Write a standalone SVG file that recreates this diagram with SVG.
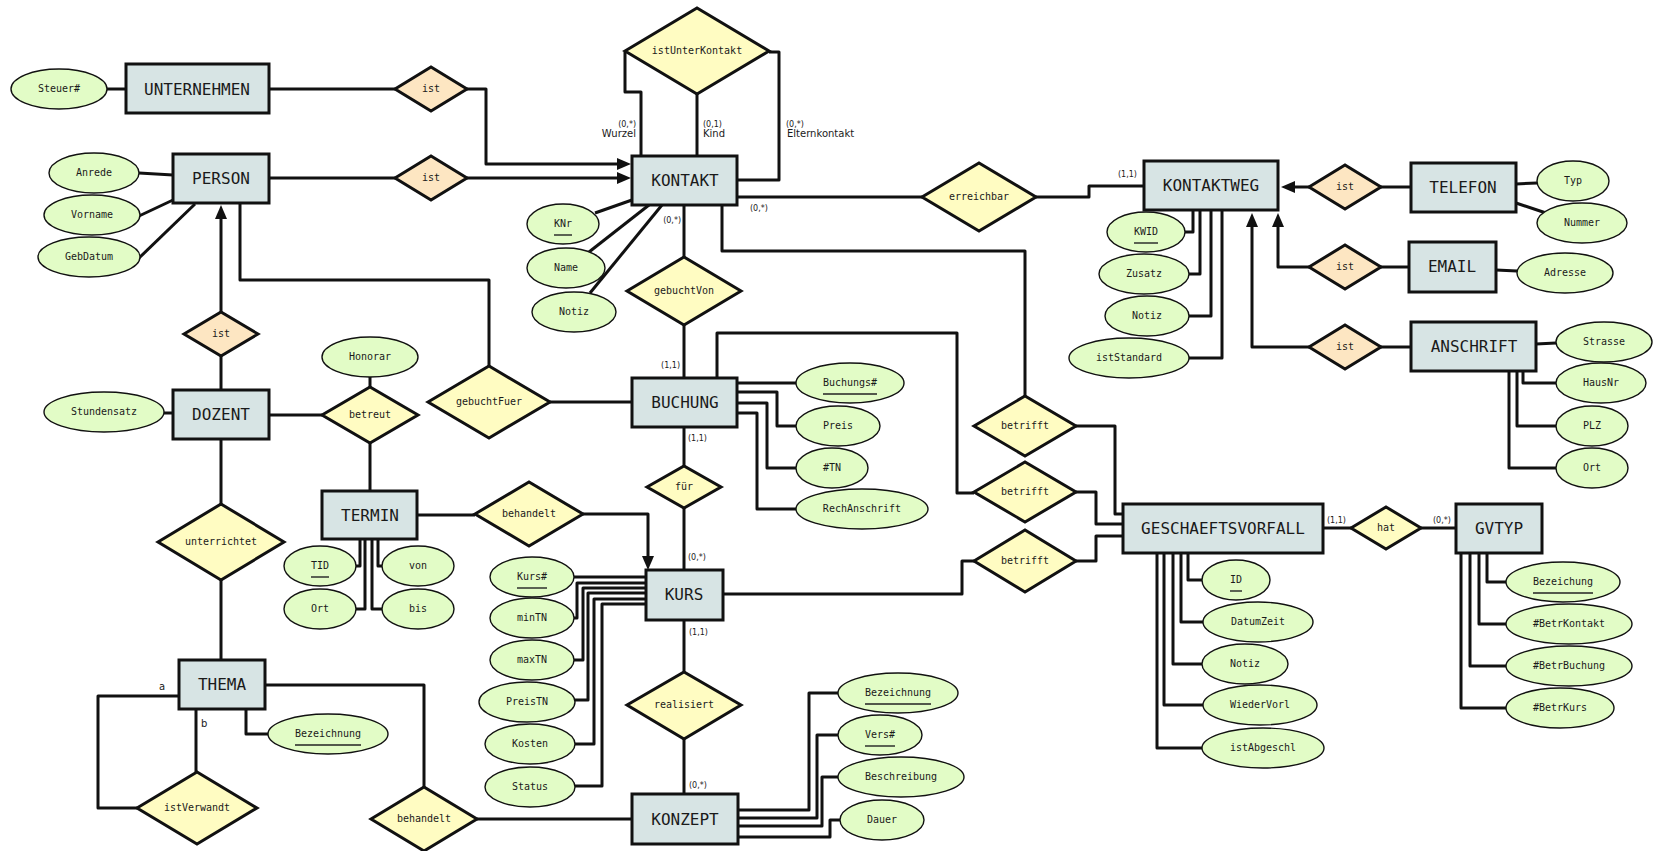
<svg xmlns="http://www.w3.org/2000/svg" width="1658" height="851" viewBox="0 0 1658 851">
<style>
.e{fill:#d7e4e4;stroke:#111;stroke-width:3}
.a{fill:#e2fcc6;stroke:#111;stroke-width:1.4}
.r{fill:#fffcc2;stroke:#111;stroke-width:3;stroke-linejoin:miter}
.i{fill:#fde6c2;stroke:#111;stroke-width:3;stroke-linejoin:miter}
.c path{fill:none;stroke:#111;stroke-width:3;stroke-linejoin:round}
.u{stroke:#222;stroke-width:1.4}
text{font-family:"DejaVu Sans Mono","Liberation Mono",monospace;fill:#1a1a1a;text-anchor:middle}
.et{font-size:16px}
.at{font-size:10px}
.card{font-family:"DejaVu Sans","Liberation Sans",sans-serif;font-size:8px;text-anchor:start}
.role{font-family:"DejaVu Sans","Liberation Sans",sans-serif;font-size:10px;text-anchor:start}
.end{text-anchor:end}
</style>
<defs>
<marker id="arr" markerUnits="userSpaceOnUse" markerWidth="14" markerHeight="12" refX="0" refY="6" orient="auto" overflow="visible"><path d="M0,0 L14,6 L0,12 z" fill="#111"/></marker>
</defs>

<g id="connectors" class="c">
<path d="M107,89 H126"/>
<path d="M269,89 H395"/>
<path d="M467,89 H486 V164 H617" marker-end="url(#arr)"/>
<path d="M269,178 H395"/>
<path d="M467,178 H617" marker-end="url(#arr)"/>
<path d="M139,173 L173,175"/>
<path d="M139,216 L173,200"/>
<path d="M138,259 L195,204"/>
<path d="M240,203 V280 H489 V366"/>
<path d="M221,313 V219" marker-end="url(#arr)"/>
<path d="M221,356 V390"/>
<path d="M164,413 H173"/>
<path d="M269,415 H322"/>
<path d="M370,377 V387"/>
<path d="M370,443 V491"/>
<path d="M221,439 V504"/>
<path d="M221,580 V660"/>
<path d="M360,539 V566 H356"/>
<path d="M378,539 V566 H382"/>
<path d="M365,539 V609 H356"/>
<path d="M372,539 V609 H382"/>
<path d="M417,515 H475"/>
<path d="M583,514 H648 V556" marker-end="url(#arr)"/>
<path d="M265,685 H424 V787"/>
<path d="M477,819 H632"/>
<path d="M179,696 H98 V808 H137"/>
<path d="M196,709 V772"/>
<path d="M246,709 V734 H268"/>
<path d="M625,52 V92 H641 V156"/>
<path d="M697,94 V156"/>
<path d="M769,52 H779 V180 H737"/>
<path d="M737,197 H922"/>
<path d="M1036,197 H1089 V186 H1144"/>
<path d="M722,205 V251 H1025 V396"/>
<path d="M595,213 L632,200"/>
<path d="M589,252 L649,205"/>
<path d="M590,293 L662,205"/>
<path d="M684,205 V257"/>
<path d="M684,325 V378"/>
<path d="M550,402 H632"/>
<path d="M717,378 V333 H957 V493 H974"/>
<path d="M737,383 H796"/>
<path d="M737,392 H777 V426 H796"/>
<path d="M737,403 H767 V468 H796"/>
<path d="M737,413 H757 V509 H796"/>
<path d="M684,427 V466"/>
<path d="M684,508 V570"/>
<path d="M646,577 H574"/>
<path d="M646,583 H577 V618 H574"/>
<path d="M646,588 H583 V660 H574"/>
<path d="M646,593 H588 V700 H575"/>
<path d="M646,599 H594 V744 H575"/>
<path d="M646,604 H602 V786 H575"/>
<path d="M684,620 V672"/>
<path d="M684,739 V794"/>
<path d="M723,594 H962 V561 H974"/>
<path d="M738,810 H809 V693 H838"/>
<path d="M738,818 H817 V735 H838"/>
<path d="M738,826 H822 V777 H838"/>
<path d="M738,837 H830 V820 H840"/>
<path d="M1076,426 H1115 V514 H1123"/>
<path d="M1076,492 H1096 V524 H1123"/>
<path d="M1076,561 H1096 V536 H1123"/>
<path d="M1323,528 H1351"/>
<path d="M1421,528 H1456"/>
<path d="M1188,553 V580 H1202"/>
<path d="M1181,553 V622 H1203"/>
<path d="M1173,553 V664 H1202"/>
<path d="M1164,553 V705 H1203"/>
<path d="M1157,553 V748 H1202"/>
<path d="M1487,553 V582 H1506"/>
<path d="M1479,553 V624 H1506"/>
<path d="M1470,553 V666 H1506"/>
<path d="M1461,553 V708 H1506"/>
<path d="M1193,210 V232 H1185"/>
<path d="M1200,210 V274 H1189"/>
<path d="M1211,210 V316 H1189"/>
<path d="M1222,210 V358 H1189"/>
<path d="M1309,187 H1295" marker-end="url(#arr)"/>
<path d="M1381,187 H1411"/>
<path d="M1309,267 H1278 V227" marker-end="url(#arr)"/>
<path d="M1381,267 H1409"/>
<path d="M1309,347 H1252 V227" marker-end="url(#arr)"/>
<path d="M1381,347 H1411"/>
<path d="M1516,184 L1537,183"/>
<path d="M1516,203 L1546,213"/>
<path d="M1496,270 L1517,271"/>
<path d="M1536,344 L1556,343"/>
<path d="M1523,371 V383 H1556"/>
<path d="M1517,371 V426 H1556"/>
<path d="M1509,371 V468 H1556"/>
</g>

<g id="labels">
<text class="card end" x="636" y="127">(0,*)</text>
<text class="role end" x="636" y="137">Wurzel</text>
<text class="card" x="703" y="127">(0,1)</text>
<text class="role" x="703" y="137">Kind</text>
<text class="card" x="786" y="127">(0,*)</text>
<text class="role" x="787" y="137">Elternkontakt</text>
<text class="card" x="750" y="211">(0,*)</text>
<text class="card end" x="681" y="223">(0,*)</text>
<text class="card" x="1118" y="177">(1,1)</text>
<text class="card end" x="680" y="368">(1,1)</text>
<text class="card" x="688" y="441">(1,1)</text>
<text class="card" x="688" y="560">(0,*)</text>
<text class="card" x="689" y="635">(1,1)</text>
<text class="card" x="689" y="788">(0,*)</text>
<text class="card" x="1327" y="523">(1,1)</text>
<text class="card" x="1433" y="523">(0,*)</text>
<text class="role" x="159" y="690">a</text>
<text class="role" x="201" y="727">b</text>
</g>

<g id="UNTERNEHMEN"><rect class="e" x="126" y="64" width="143" height="49"/><text class="et" x="197" y="95">UNTERNEHMEN</text></g>
<g id="PERSON"><rect class="e" x="173" y="154" width="96" height="49"/><text class="et" x="221" y="184">PERSON</text></g>
<g id="KONTAKT"><rect class="e" x="632" y="156" width="105" height="49"/><text class="et" x="685" y="186">KONTAKT</text></g>
<g id="KONTAKTWEG"><rect class="e" x="1144" y="161" width="134" height="49"/><text class="et" x="1211" y="191">KONTAKTWEG</text></g>
<g id="TELEFON"><rect class="e" x="1411" y="163" width="105" height="49"/><text class="et" x="1463" y="193">TELEFON</text></g>
<g id="EMAIL"><rect class="e" x="1409" y="242" width="87" height="50"/><text class="et" x="1452" y="272">EMAIL</text></g>
<g id="ANSCHRIFT"><rect class="e" x="1411" y="322" width="125" height="49"/><text class="et" x="1474" y="352">ANSCHRIFT</text></g>
<g id="DOZENT"><rect class="e" x="173" y="390" width="96" height="49"/><text class="et" x="221" y="420">DOZENT</text></g>
<g id="TERMIN"><rect class="e" x="322" y="491" width="95" height="48"/><text class="et" x="370" y="521">TERMIN</text></g>
<g id="BUCHUNG"><rect class="e" x="632" y="378" width="105" height="49"/><text class="et" x="685" y="408">BUCHUNG</text></g>
<g id="KURS"><rect class="e" x="646" y="570" width="77" height="50"/><text class="et" x="684" y="600">KURS</text></g>
<g id="GESCHAEFTSVORFALL"><rect class="e" x="1123" y="504" width="200" height="49"/><text class="et" x="1223" y="534">GESCHAEFTSVORFALL</text></g>
<g id="GVTYP"><rect class="e" x="1456" y="504" width="86" height="49"/><text class="et" x="1499" y="534">GVTYP</text></g>
<g id="THEMA"><rect class="e" x="179" y="660" width="86" height="49"/><text class="et" x="222" y="690">THEMA</text></g>
<g id="KONZEPT"><rect class="e" x="632" y="794" width="106" height="50"/><text class="et" x="685" y="825">KONZEPT</text></g>

<g id="ist_unternehmen"><polygon class="i" points="395,89 431,67 467,89 431,111"/><text class="at" x="431" y="92">ist</text></g>
<g id="ist_person"><polygon class="i" points="395,178 431,156 467,178 431,200"/><text class="at" x="431" y="181">ist</text></g>
<g id="istUnterKontakt"><polygon class="r" points="625,51 697,8 769,51 697,94"/><text class="at" x="697" y="54">istUnterKontakt</text></g>
<g id="erreichbar"><polygon class="r" points="922,197 979,163 1036,197 979,231"/><text class="at" x="979" y="200">erreichbar</text></g>
<g id="ist_telefon"><polygon class="i" points="1309,187 1345,165 1381,187 1345,209"/><text class="at" x="1345" y="190">ist</text></g>
<g id="ist_email"><polygon class="i" points="1309,267 1345,245 1381,267 1345,289"/><text class="at" x="1345" y="270">ist</text></g>
<g id="ist_anschrift"><polygon class="i" points="1309,347 1345,325 1381,347 1345,369"/><text class="at" x="1345" y="350">ist</text></g>
<g id="gebuchtVon"><polygon class="r" points="627,291 684,257 741,291 684,325"/><text class="at" x="684" y="294">gebuchtVon</text></g>
<g id="ist_dozent"><polygon class="i" points="184,334 221,312 258,334 221,356"/><text class="at" x="221" y="337">ist</text></g>
<g id="betreut"><polygon class="r" points="322,415 370,387 418,415 370,443"/><text class="at" x="370" y="418">betreut</text></g>
<g id="gebuchtFuer"><polygon class="r" points="428,402 489,366 550,402 489,438"/><text class="at" x="489" y="405">gebuchtFuer</text></g>
<g id="unterrichtet"><polygon class="r" points="158,542 221,504 284,542 221,580"/><text class="at" x="221" y="545">unterrichtet</text></g>
<g id="behandelt_termin"><polygon class="r" points="475,514 529,482 583,514 529,546"/><text class="at" x="529" y="517">behandelt</text></g>
<g id="fuer"><polygon class="r" points="647,487 684,466 721,487 684,508"/><text class="at" x="684" y="490">für</text></g>
<g id="betrifft_kontakt"><polygon class="r" points="974,426 1025,396 1076,426 1025,456"/><text class="at" x="1025" y="429">betrifft</text></g>
<g id="betrifft_buchung"><polygon class="r" points="974,492 1025,462 1076,492 1025,522"/><text class="at" x="1025" y="495">betrifft</text></g>
<g id="betrifft_kurs"><polygon class="r" points="974,561 1025,530 1076,561 1025,592"/><text class="at" x="1025" y="564">betrifft</text></g>
<g id="hat"><polygon class="r" points="1351,528 1386,507 1421,528 1386,549"/><text class="at" x="1386" y="531">hat</text></g>
<g id="realisiert"><polygon class="r" points="627,705 684,672 741,705 684,739"/><text class="at" x="684" y="708">realisiert</text></g>
<g id="istVerwandt"><polygon class="r" points="137,808 197,772 257,808 197,844"/><text class="at" x="197" y="811">istVerwandt</text></g>
<g id="behandelt_thema"><polygon class="r" points="371,819 424,787 477,819 424,851"/><text class="at" x="424" y="822">behandelt</text></g>

<g id="attr_Steuer"><ellipse class="a" cx="59" cy="89" rx="48" ry="20"/><text class="at" x="59" y="92">Steuer#</text></g>
<g id="attr_Anrede"><ellipse class="a" cx="94" cy="173" rx="45" ry="20"/><text class="at" x="94" y="176">Anrede</text></g>
<g id="attr_Vorname"><ellipse class="a" cx="92" cy="215" rx="48" ry="20"/><text class="at" x="92" y="218">Vorname</text></g>
<g id="attr_GebDatum"><ellipse class="a" cx="89" cy="257" rx="51" ry="20"/><text class="at" x="89" y="260">GebDatum</text></g>
<g id="attr_KNr"><ellipse class="a" cx="563" cy="224" rx="36" ry="20"/><text class="at" x="563" y="227">KNr</text><line class="u" x1="554" y1="235" x2="572" y2="235"/></g>
<g id="attr_Name"><ellipse class="a" cx="566" cy="268" rx="39" ry="20"/><text class="at" x="566" y="271">Name</text></g>
<g id="attr_Notiz_K"><ellipse class="a" cx="574" cy="312" rx="42" ry="20"/><text class="at" x="574" y="315">Notiz</text></g>
<g id="attr_KWID"><ellipse class="a" cx="1146" cy="232" rx="39" ry="20"/><text class="at" x="1146" y="235">KWID</text><line class="u" x1="1134" y1="243" x2="1158" y2="243"/></g>
<g id="attr_Zusatz"><ellipse class="a" cx="1144" cy="274" rx="45" ry="20"/><text class="at" x="1144" y="277">Zusatz</text></g>
<g id="attr_Notiz_KW"><ellipse class="a" cx="1147" cy="316" rx="42" ry="20"/><text class="at" x="1147" y="319">Notiz</text></g>
<g id="attr_istStandard"><ellipse class="a" cx="1129" cy="358" rx="60" ry="20"/><text class="at" x="1129" y="361">istStandard</text></g>
<g id="attr_Typ"><ellipse class="a" cx="1573" cy="181" rx="36" ry="20"/><text class="at" x="1573" y="184">Typ</text></g>
<g id="attr_Nummer"><ellipse class="a" cx="1582" cy="223" rx="45" ry="20"/><text class="at" x="1582" y="226">Nummer</text></g>
<g id="attr_Adresse"><ellipse class="a" cx="1565" cy="273" rx="48" ry="20"/><text class="at" x="1565" y="276">Adresse</text></g>
<g id="attr_Strasse"><ellipse class="a" cx="1604" cy="342" rx="48" ry="20"/><text class="at" x="1604" y="345">Strasse</text></g>
<g id="attr_HausNr"><ellipse class="a" cx="1601" cy="383" rx="45" ry="20"/><text class="at" x="1601" y="386">HausNr</text></g>
<g id="attr_PLZ"><ellipse class="a" cx="1592" cy="426" rx="36" ry="20"/><text class="at" x="1592" y="429">PLZ</text></g>
<g id="attr_Ort_A"><ellipse class="a" cx="1592" cy="468" rx="36" ry="20"/><text class="at" x="1592" y="471">Ort</text></g>
<g id="attr_Honorar"><ellipse class="a" cx="370" cy="357" rx="48" ry="20"/><text class="at" x="370" y="360">Honorar</text></g>
<g id="attr_Stundensatz"><ellipse class="a" cx="104" cy="412" rx="60" ry="20"/><text class="at" x="104" y="415">Stundensatz</text></g>
<g id="attr_TID"><ellipse class="a" cx="320" cy="566" rx="36" ry="20"/><text class="at" x="320" y="569">TID</text><line class="u" x1="311" y1="577" x2="329" y2="577"/></g>
<g id="attr_von"><ellipse class="a" cx="418" cy="566" rx="36" ry="20"/><text class="at" x="418" y="569">von</text></g>
<g id="attr_Ort_T"><ellipse class="a" cx="320" cy="609" rx="36" ry="20"/><text class="at" x="320" y="612">Ort</text></g>
<g id="attr_bis"><ellipse class="a" cx="418" cy="609" rx="36" ry="20"/><text class="at" x="418" y="612">bis</text></g>
<g id="attr_Buchungs"><ellipse class="a" cx="850" cy="383" rx="54" ry="20"/><text class="at" x="850" y="386">Buchungs#</text><line class="u" x1="823" y1="394" x2="877" y2="394"/></g>
<g id="attr_Preis"><ellipse class="a" cx="838" cy="426" rx="42" ry="20"/><text class="at" x="838" y="429">Preis</text></g>
<g id="attr_TN"><ellipse class="a" cx="832" cy="468" rx="36" ry="20"/><text class="at" x="832" y="471">#TN</text></g>
<g id="attr_RechAnschrift"><ellipse class="a" cx="862" cy="509" rx="66" ry="20"/><text class="at" x="862" y="512">RechAnschrift</text></g>
<g id="attr_Kurs"><ellipse class="a" cx="532" cy="577" rx="42" ry="20"/><text class="at" x="532" y="580">Kurs#</text><line class="u" x1="517" y1="588" x2="547" y2="588"/></g>
<g id="attr_minTN"><ellipse class="a" cx="532" cy="618" rx="42" ry="20"/><text class="at" x="532" y="621">minTN</text></g>
<g id="attr_maxTN"><ellipse class="a" cx="532" cy="660" rx="42" ry="20"/><text class="at" x="532" y="663">maxTN</text></g>
<g id="attr_PreisTN"><ellipse class="a" cx="527" cy="702" rx="48" ry="20"/><text class="at" x="527" y="705">PreisTN</text></g>
<g id="attr_Kosten"><ellipse class="a" cx="530" cy="744" rx="45" ry="20"/><text class="at" x="530" y="747">Kosten</text></g>
<g id="attr_Status"><ellipse class="a" cx="530" cy="787" rx="45" ry="20"/><text class="at" x="530" y="790">Status</text></g>
<g id="attr_Bezeichnung_T"><ellipse class="a" cx="328" cy="734" rx="60" ry="20"/><text class="at" x="328" y="737">Bezeichnung</text><line class="u" x1="295" y1="745" x2="361" y2="745"/></g>
<g id="attr_Bezeichnung_K"><ellipse class="a" cx="898" cy="693" rx="60" ry="20"/><text class="at" x="898" y="696">Bezeichnung</text><line class="u" x1="865" y1="704" x2="931" y2="704"/></g>
<g id="attr_Vers"><ellipse class="a" cx="880" cy="735" rx="42" ry="20"/><text class="at" x="880" y="738">Vers#</text><line class="u" x1="865" y1="746" x2="895" y2="746"/></g>
<g id="attr_Beschreibung"><ellipse class="a" cx="901" cy="777" rx="63" ry="20"/><text class="at" x="901" y="780">Beschreibung</text></g>
<g id="attr_Dauer"><ellipse class="a" cx="882" cy="820" rx="42" ry="20"/><text class="at" x="882" y="823">Dauer</text></g>
<g id="attr_ID"><ellipse class="a" cx="1236" cy="580" rx="34" ry="20"/><text class="at" x="1236" y="583">ID</text><line class="u" x1="1230" y1="591" x2="1242" y2="591"/></g>
<g id="attr_DatumZeit"><ellipse class="a" cx="1258" cy="622" rx="55" ry="20"/><text class="at" x="1258" y="625">DatumZeit</text></g>
<g id="attr_Notiz_G"><ellipse class="a" cx="1245" cy="664" rx="43" ry="20"/><text class="at" x="1245" y="667">Notiz</text></g>
<g id="attr_WiederVorl"><ellipse class="a" cx="1260" cy="705" rx="57" ry="20"/><text class="at" x="1260" y="708">WiederVorl</text></g>
<g id="attr_istAbgeschl"><ellipse class="a" cx="1263" cy="748" rx="61" ry="20"/><text class="at" x="1263" y="751">istAbgeschl</text></g>
<g id="attr_Bezeichung"><ellipse class="a" cx="1563" cy="582" rx="57" ry="20"/><text class="at" x="1563" y="585">Bezeichung</text><line class="u" x1="1533" y1="593" x2="1593" y2="593"/></g>
<g id="attr_BetrKontakt"><ellipse class="a" cx="1569" cy="624" rx="63" ry="20"/><text class="at" x="1569" y="627">#BetrKontakt</text></g>
<g id="attr_BetrBuchung"><ellipse class="a" cx="1569" cy="666" rx="63" ry="20"/><text class="at" x="1569" y="669">#BetrBuchung</text></g>
<g id="attr_BetrKurs"><ellipse class="a" cx="1560" cy="708" rx="54" ry="20"/><text class="at" x="1560" y="711">#BetrKurs</text></g>
</svg>
